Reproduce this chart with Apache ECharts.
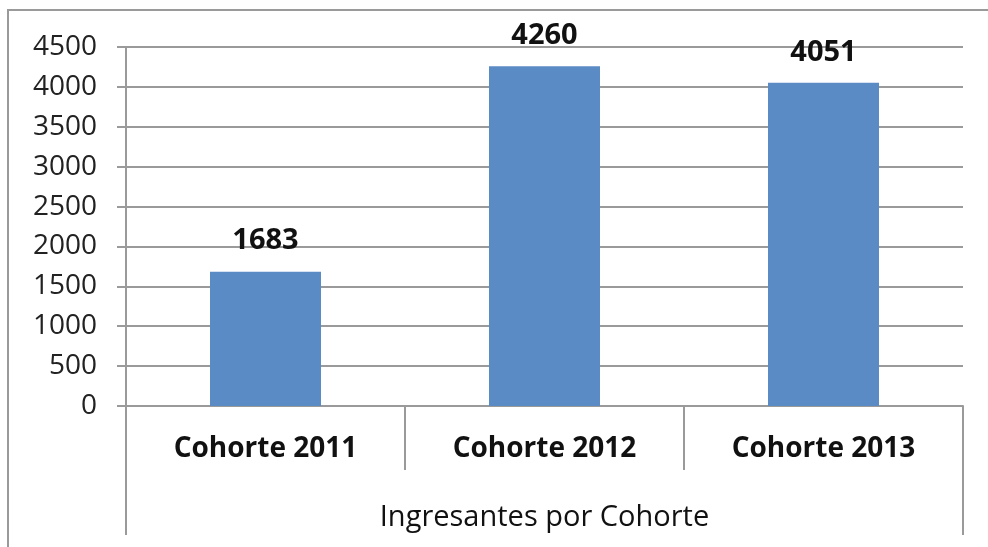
<!DOCTYPE html>
<html><head><meta charset="utf-8">
<script src="https://cdn.jsdelivr.net/npm/echarts@6/dist/echarts.min.js"></script>
<style>html,body{margin:0;padding:0;background:#fff}#c{width:988px;height:547px}</style>
</head><body><div id="c"></div>
<script>
const categories = ['Cohorte 2011', 'Cohorte 2012', 'Cohorte 2013'];
const values = [1683, 4260, 4051];
const groupLabel = ['Ingresantes por Cohorte'];
const yMin = 0, yMax = 4500, yStep = 500;

const font = '"Open Sans", Lato, sans-serif';
const grey = '#9a9a9a';
const chart = echarts.init(document.getElementById('c'));
chart.setOption({
  animation: false,
  graphic: [{
    type: 'rect', silent: true, z: -1,
    shape: {x: 8, y: 10, width: 1100, height: 700},
    style: {fill: 'none', stroke: grey, lineWidth: 2}
  }],
  grid: {left: 126, right: 25, top: 47, bottom: 141},
  xAxis: [{
    type: 'category', data: categories, position: 'bottom',
    axisLine: {show: true, lineStyle: {color: grey, width: 2}},
    axisTick: {show: true, length: 64, alignWithLabel: false, lineStyle: {color: grey, width: 2}},
    axisLabel: {margin: 29, color: '#111', fontFamily: font, fontWeight: 'bold', fontSize: 28}
  }, {
    type: 'category', data: groupLabel, position: 'bottom',
    axisLine: {show: false},
    axisTick: {show: true, length: 129, lineStyle: {color: grey, width: 2}},
    axisLabel: {margin: 97, color: '#111', fontFamily: font, fontWeight: 500, fontSize: 29}
  }],
  yAxis: {
    type: 'value', min: yMin, max: yMax, interval: yStep,
    axisLine: {show: true, lineStyle: {color: grey, width: 2}},
    axisTick: {show: true, length: 9, lineStyle: {color: grey, width: 2}},
    splitLine: {show: true, lineStyle: {color: grey, width: 2}},
    axisLabel: {margin: 29, color: '#222', fontFamily: font, fontSize: 28,
      formatter: v => String(v)}
  },
  series: [{
    type: 'bar', data: values, xAxisIndex: 0, barWidth: 111,
    itemStyle: {color: '#5b8bc5'},
    label: {show: true, position: 'top', distance: 16, color: '#111',
      fontFamily: font, fontWeight: 'bold', fontSize: 29}
  }]
});
</script></body></html>
